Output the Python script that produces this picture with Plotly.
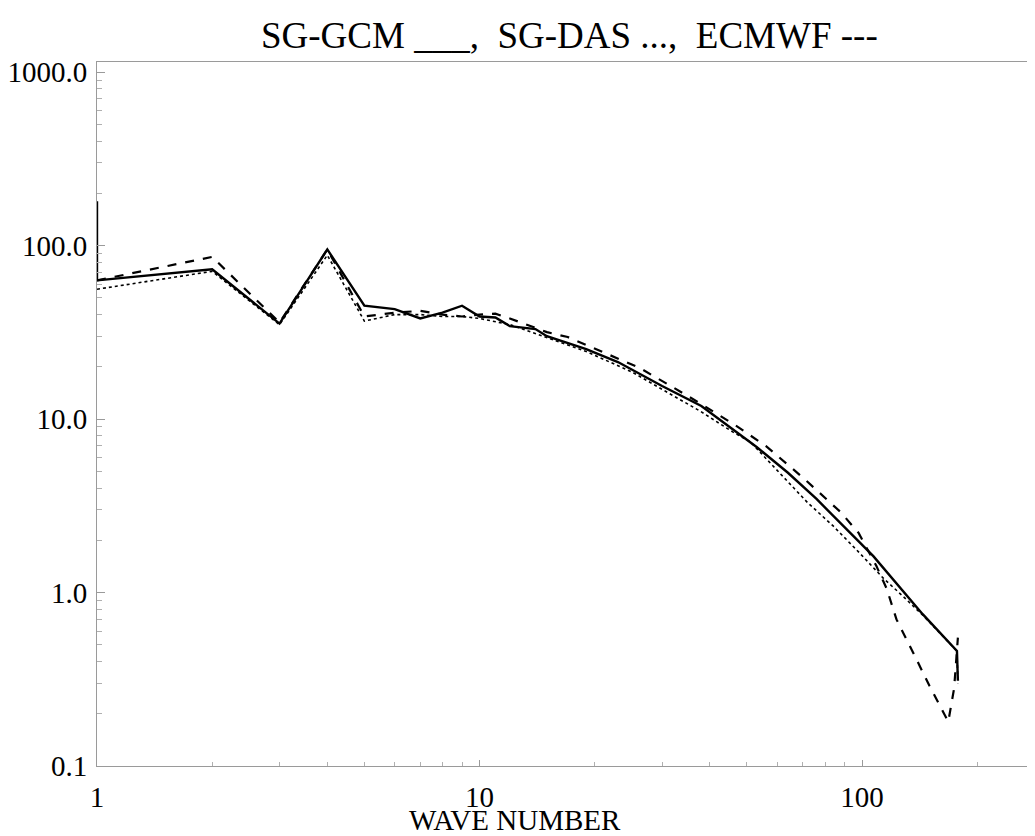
import plotly.graph_objects as go

# SG-GCM (solid)
gcm_wave = [1, 1, 2, 3, 4, 5, 6, 7, 8, 9, 10, 11, 12, 14, 15, 19, 23, 30, 38, 53, 64, 76, 107, 144, 177, 178]
gcm_val = [180, 63, 73, 35.5, 95, 45, 43, 38, 41, 45, 39, 38.5, 34.3, 33, 30, 25.3, 21.3, 15.5, 11.9, 6.9, 4.9, 3.46, 1.62, 0.75, 0.46, 0.31]

# SG-DAS (dotted)
das_wave = [1, 2, 3, 4, 5, 6, 7, 8, 9, 10, 12, 14, 19, 25, 31, 38, 46, 51, 72, 84, 98, 114, 128, 145, 177, 178]
das_val = [56, 71, 35, 88, 36.7, 40, 40, 39, 39, 38, 35, 31, 24.5, 18.7, 14.3, 11, 8.4, 7.4, 3.3, 2.42, 1.71, 1.2, 0.95, 0.73, 0.46, 0.3]

# ECMWF (dashed)
ec_wave = [1, 2, 3, 4, 5, 6, 7, 8, 9, 10, 11, 12, 15, 17, 21, 26, 31, 38, 47, 56, 70, 88, 98, 109, 116, 123, 136, 150, 168, 174, 178]
ec_val = [63, 86, 36, 95, 39, 41, 42, 40, 39, 40, 40.5, 38, 31.7, 29.7, 24.3, 19.9, 15.9, 12.2, 9.1, 7.0, 4.6, 2.9, 2.2, 1.42, 1.05, 0.70, 0.45, 0.29, 0.18, 0.28, 0.55]

y_ticks = [0.1, 1, 10, 100, 1000]
y_labels = ["0.1", "1.0", "10.0", "100.0", "1000.0"]
x_ticks = [1, 10, 100]
x_labels = ["1", "10", "100"]

FONT = "Liberation Serif, Times New Roman, serif"

y_minor = [m * 10 ** e for e in range(-1, 3) for m in range(2, 10)]
x_minor = [m * 10 ** e for e in range(0, 3) for m in range(2, 10) if m * 10 ** e < 290]

fig = go.Figure()
fig.add_trace(go.Scatter(x=das_wave, y=das_val, mode="lines",
                         line=dict(color="black", width=1.6, dash="dot"), name="SG-DAS"))
fig.add_trace(go.Scatter(x=ec_wave, y=ec_val, mode="lines",
                         line=dict(color="black", width=2.2, dash="dash"), name="ECMWF"))
fig.add_trace(go.Scatter(x=gcm_wave, y=gcm_val, mode="lines",
                         line=dict(color="black", width=2.4), name="SG-GCM"))

# page body has an 8px margin, so the figure is sized/offset to compensate
fig.update_layout(
    width=1027, height=828,
    margin=dict(l=89, r=0, t=54, b=70, autoexpand=False),
    paper_bgcolor="white", plot_bgcolor="white",
    showlegend=False,
    font=dict(family=FONT, color="black", size=29),
)

fig.update_xaxes(
    type="log", range=[0, 2.452], automargin=False,
    tickvals=x_ticks, ticktext=x_labels,
    showgrid=False, zeroline=False,
    showline=True, linecolor="#9a9a9a", linewidth=1, mirror=True,
    ticks="inside", ticklen=6, tickcolor="#9a9a9a",
    ticklabelstandoff=5,
    minor=dict(tickvals=x_minor, ticks="inside", ticklen=4, tickcolor="#b0b0b0", showgrid=False),
    tickfont=dict(family=FONT, size=29, color="black"),
)
fig.update_yaxes(
    type="log", range=[-1, 3.058], automargin=False,
    tickvals=y_ticks, ticktext=y_labels,
    showgrid=False, zeroline=False,
    showline=True, linecolor="#9a9a9a", linewidth=1, mirror=False,
    ticks="inside", ticklen=8, tickcolor="#9a9a9a",
    ticklabelstandoff=3,
    minor=dict(tickvals=y_minor, ticks="inside", ticklen=5, tickcolor="#b0b0b0", showgrid=False),
    tickfont=dict(family=FONT, size=29, color="black"),
)

fig.add_annotation(text="SG-GCM ___,  SG-DAS ...,  ECMWF ---",
                   xref="paper", yref="paper", x=(569 - 97) / 938, y=(766 - 35) / 704,
                   xanchor="center", yanchor="middle", showarrow=False,
                   font=dict(family=FONT, size=37, color="black"))
fig.add_annotation(text="WAVE NUMBER",
                   xref="paper", yref="paper", x=(515 - 97) / 938, y=(766 - 820) / 704,
                   xanchor="center", yanchor="middle", showarrow=False,
                   font=dict(family=FONT, size=29, color="black"))

fig.write_html("out.html")
